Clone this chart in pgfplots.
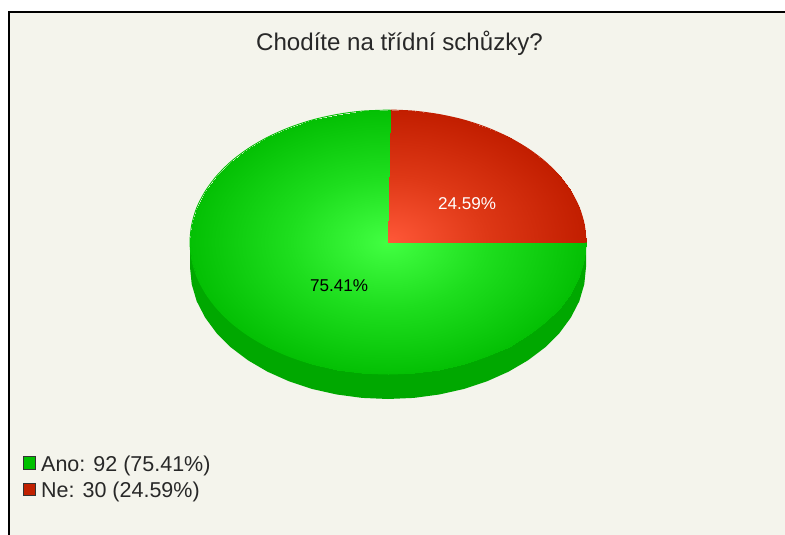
\documentclass[border=0pt]{standalone}
\usepackage{pgfplots}
\pgfplotsset{compat=1.18}
\usepackage{fontspec}
\setmainfont{Liberation Sans}
\definecolor{bgc}{RGB}{244,244,236}
\definecolor{sidec}{RGB}{0,168,0}
\definecolor{swg}{RGB}{0,192,0}
\definecolor{swr}{RGB}{192,32,0}
\definecolor{txt}{RGB}{40,40,40}
\definecolor{rimg}{RGB}{4,192,4}
\definecolor{rimr}{RGB}{194,30,0}
\pgfplotsset{
  colormap={gpie}{rgb255=(4,192,4) rgb255=(30,222,30) rgb255=(66,255,66)},
  colormap={rpie}{rgb255=(194,30,0) rgb255=(222,56,22) rgb255=(255,88,56)},
}
\begin{document}
\begin{tikzpicture}
\begin{axis}[
  scale only axis, width=785pt, height=535pt,
  xmin=0, xmax=785, ymin=0, ymax=535, y dir=reverse,
  axis lines=none, clip=true,
  point meta min=0, point meta max=1,
]
% page
\addplot[fill=white, draw=none] coordinates {(0,0) (785,0) (785,535) (0,535)};
% panel
\addplot[fill=bgc, draw=black, line width=2pt] coordinates {(8.5,545) (8.5,12) (795,12) (795,545)};
% side of the pie
\addplot[fill=sidec, draw=none] coordinates {
(586,242)(586,267)(584.3,284.2)(579.3,301.2)(570.9,317.5)(559.5,333)(545.1,347.4)(528,360.3)(508.5,371.7)(487,381.3)(463.8,389)(439.2,394.5)(413.8,397.9)(388,399)
(362.2,397.9)(336.8,394.5)(312.2,389)(289,381.3)(267.5,371.7)(248,360.3)(230.9,347.4)(216.5,333)(205.1,317.5)(196.7,301.2)(191.7,284.2)(190,267)(190,242)};
% Ano: 92
\addplot[surf, shader=interp, colormap name=gpie, mesh/rows=2, point meta=\thisrow{m}] table {
x y m
388 242 1
388 242 1
388 242 1
388 242 1
388 242 1
388 242 1
388 242 1
388 242 1
388 242 1
388 242 1
388 242 1
388 242 1
388 242 1
388 242 1
388 242 1
388 242 1
388 242 1
388 242 1
388 242 1
388 242 1
388 242 1
388 242 1
388 242 1
388 242 1
388 242 1
388 242 1
388 242 1
388 242 1
388 242 1
388 242 1
388 242 1
388 242 1
388 242 1
388 242 1
388 242 1
388 242 1
388 242 1
388 242 1
388 242 1
388 242 1
390.5 110 0
388 110 0
362.2 111.1 0
336.8 114.5 0
312.2 120 0
289 127.7 0
267.5 137.3 0
248 148.7 0
230.9 161.6 0
216.5 176 0
205.1 191.5 0
196.7 207.8 0
191.7 224.8 0
190 242 0
191.7 259.2 0
196.7 276.2 0
205.1 292.5 0
216.5 308 0
230.9 322.4 0
248 335.3 0
267.5 346.7 0
289 356.3 0
312.2 364 0
336.8 369.5 0
362.2 372.9 0
388 374 0
413.8 372.9 0
439.2 369.5 0
463.8 364 0
487 356.3 0
508.5 346.7 0
528 335.3 0
545.1 322.4 0
559.5 308 0
570.9 292.5 0
579.3 276.2 0
584.3 259.2 0
586 242 0
586 242 0
586 242 0
};
% Ne: 30
\addplot[surf, shader=interp, colormap name=rpie, mesh/rows=2, point meta=\thisrow{m}] table {
x y m
388 242 1
388 242 1
388 242 1
388 242 1
388 242 1
388 242 1
388 242 1
388 242 1
388 242 1
388 242 1
388 242 1
388 242 1
388 242 1
586 242 0
584.3 224.8 0
579.3 207.8 0
570.9 191.5 0
559.5 176 0
545.1 161.6 0
528 148.7 0
508.5 137.3 0
487 127.7 0
463.8 120 0
439.2 114.5 0
413.8 111.1 0
390.5 110 0
};
% rims: smooth the shaded edges
\addplot[rimg, line width=0.9pt, smooth, no marks] coordinates {
(390.5,110)(362.2,111.1)(336.8,114.5)(312.2,120)(289,127.7)(267.5,137.3)(248,148.7)(230.9,161.6)(216.5,176)(205.1,191.5)(196.7,207.8)(191.7,224.8)(190,242)
(191.7,259.2)(196.7,276.2)(205.1,292.5)(216.5,308)(230.9,322.4)(248,335.3)(267.5,346.7)(289,356.3)(312.2,364)(336.8,369.5)(362.2,372.9)(388,374)
(413.8,372.9)(439.2,369.5)(463.8,364)(487,356.3)(508.5,346.7)(528,335.3)(545.1,322.4)(559.5,308)(570.9,292.5)(579.3,276.2)(584.3,259.2)(586,242)};
\addplot[rimr, line width=0.9pt, smooth, no marks] coordinates {
(586,242)(584.3,224.8)(579.3,207.8)(570.9,191.5)(559.5,176)(545.1,161.6)(528,148.7)(508.5,137.3)(487,127.7)(463.8,120)(439.2,114.5)(413.8,111.1)(390.5,110)};
% legend swatches
\addplot[only marks, mark=square*, mark size=6.2pt, mark options={fill=swg, draw=black!80, line width=1pt}] coordinates {(29.3,463)};
\addplot[only marks, mark=square*, mark size=6.2pt, mark options={fill=swr, draw=black!80, line width=1pt}] coordinates {(29.3,489.5)};
% texts
\node[text=txt, font=\fontsize{24.1}{26}\selectfont] at (axis cs:399.5,43) {Chodíte na třídní schůzky?};
\node[text=white, font=\fontsize{17.1}{19}\selectfont] at (axis cs:467,204) {24.59\%};
\node[text=black, font=\fontsize{17.1}{19}\selectfont] at (axis cs:339,286) {75.41\%};
\node[text=txt, anchor=base west, inner sep=0pt, font=\fontsize{21.5}{24}\selectfont] at (axis cs:41,471) {Ano: 92 (75.41\%)};
\node[text=txt, anchor=base west, inner sep=0pt, font=\fontsize{21.5}{24}\selectfont] at (axis cs:41,497) {Ne: 30 (24.59\%)};
\end{axis}
\end{tikzpicture}
\end{document}
